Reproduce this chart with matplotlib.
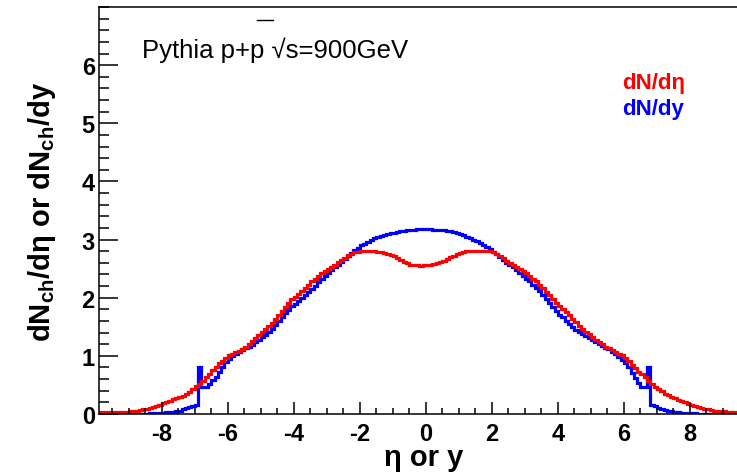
import numpy as np
import matplotlib.pyplot as plt
from matplotlib.ticker import MultipleLocator, FixedLocator
from matplotlib.lines import Line2D

plt.rcParams['font.family'] = ['Liberation Sans', 'DejaVu Sans']
plt.rcParams['axes.unicode_minus'] = False

# histogram bins: 0.1 wide from -10 to 10
bin_edges = np.round(np.linspace(-10.0, 10.0, 201), 2)

# dN/deta (red)
dn_deta = [
    0.03, 0.03, 0.03, 0.03, 0.03, 0.03, 0.03, 0.03, 0.03, 0.04,
    0.05, 0.06, 0.06, 0.07, 0.08, 0.09, 0.10, 0.12, 0.14, 0.16,
    0.19, 0.21, 0.23, 0.25, 0.27, 0.29, 0.31, 0.34, 0.38, 0.43,
    0.48, 0.52, 0.57, 0.63, 0.69, 0.75, 0.81, 0.87, 0.92, 0.97,
    1.01, 1.04, 1.07, 1.09, 1.12, 1.16, 1.20, 1.25, 1.30, 1.36,
    1.41, 1.46, 1.51, 1.57, 1.64, 1.70, 1.77, 1.84, 1.91, 1.97,
    2.02, 2.06, 2.12, 2.17, 2.22, 2.28, 2.33, 2.38, 2.42, 2.46,
    2.49, 2.52, 2.56, 2.61, 2.65, 2.69, 2.73, 2.76, 2.78, 2.79,
    2.80, 2.81, 2.81, 2.80, 2.80, 2.79, 2.78, 2.77, 2.75, 2.73,
    2.71, 2.68, 2.65, 2.62, 2.59, 2.57, 2.56, 2.56, 2.55, 2.56,
    2.56, 2.56, 2.58, 2.60, 2.62, 2.64, 2.67, 2.70, 2.72, 2.75,
    2.77, 2.78, 2.80, 2.80, 2.81, 2.81, 2.81, 2.80, 2.80, 2.80,
    2.78, 2.75, 2.72, 2.68, 2.64, 2.60, 2.56, 2.52, 2.49, 2.46,
    2.42, 2.38, 2.33, 2.28, 2.22, 2.16, 2.10, 2.04, 1.97, 1.91,
    1.86, 1.81, 1.76, 1.70, 1.64, 1.58, 1.52, 1.46, 1.41, 1.37,
    1.32, 1.28, 1.24, 1.20, 1.16, 1.13, 1.10, 1.07, 1.04, 1.01,
    0.96, 0.91, 0.85, 0.79, 0.73, 0.68, 0.63, 0.57, 0.52, 0.47,
    0.43, 0.39, 0.35, 0.32, 0.29, 0.27, 0.24, 0.22, 0.20, 0.18,
    0.16, 0.14, 0.12, 0.10, 0.09, 0.08, 0.07, 0.06, 0.06, 0.05,
    0.05, 0.04, 0.04, 0.04, 0.04, 0.03, 0.03, 0.03, 0.03, 0.03,
]

# dN/dy (blue)
dn_dy = [
    0.00, 0.00, 0.00, 0.00, 0.00, 0.00, 0.00, 0.00, 0.00, 0.00,
    0.00, 0.00, 0.00, 0.00, 0.00, 0.00, 0.01, 0.01, 0.01, 0.02,
    0.02, 0.03, 0.03, 0.04, 0.05, 0.06, 0.08, 0.10, 0.12, 0.14,
    0.16, 0.81, 0.47, 0.46, 0.52, 0.58, 0.64, 0.72, 0.81, 0.89,
    0.95, 0.99, 1.03, 1.07, 1.10, 1.13, 1.16, 1.19, 1.23, 1.28,
    1.32, 1.36, 1.41, 1.47, 1.53, 1.60, 1.67, 1.73, 1.79, 1.85,
    1.90, 1.95, 1.99, 2.04, 2.09, 2.15, 2.21, 2.27, 2.32, 2.37,
    2.42, 2.47, 2.52, 2.57, 2.62, 2.67, 2.72, 2.77, 2.82, 2.86,
    2.90, 2.93, 2.96, 2.99, 3.02, 3.04, 3.06, 3.08, 3.09, 3.11,
    3.12, 3.13, 3.14, 3.15, 3.16, 3.17, 3.17, 3.18, 3.18, 3.18,
    3.18, 3.18, 3.17, 3.17, 3.16, 3.16, 3.15, 3.14, 3.13, 3.12,
    3.10, 3.08, 3.05, 3.03, 3.00, 2.97, 2.94, 2.91, 2.87, 2.83,
    2.79, 2.75, 2.70, 2.65, 2.60, 2.56, 2.52, 2.48, 2.43, 2.38,
    2.33, 2.28, 2.22, 2.17, 2.11, 2.05, 1.98, 1.91, 1.84, 1.77,
    1.71, 1.66, 1.60, 1.55, 1.50, 1.45, 1.41, 1.38, 1.35, 1.31,
    1.27, 1.23, 1.20, 1.17, 1.14, 1.11, 1.07, 1.03, 0.98, 0.93,
    0.87, 0.80, 0.71, 0.62, 0.53, 0.46, 0.46, 0.81, 0.15, 0.13,
    0.11, 0.09, 0.07, 0.06, 0.05, 0.04, 0.03, 0.02, 0.01, 0.01,
    0.01, 0.01, 0.00, 0.00, 0.00, 0.00, 0.00, 0.00, 0.00, 0.00,
    0.00, 0.00, 0.00, 0.00, 0.00, 0.00, 0.00, 0.00, 0.00, 0.00,
]

x_major = [-8, -6, -4, -2, 0, 2, 4, 6, 8]
y_major = [0, 1, 2, 3, 4, 5, 6]

W, H = 737, 477
fig = plt.figure(figsize=(W / 100, H / 100), dpi=100)
# right edge of the frame lies outside the picture (cropped like the original)
ax = fig.add_axes([99 / W, 1 - 415 / H, (756 - 99) / W, (415 - 8) / H])

ax.stairs(dn_dy, bin_edges, baseline=None, color='#0000ff', lw=2.3)
ax.stairs(dn_deta, bin_edges, baseline=None, color='#ff0000', lw=2.3)

ax.set_xlim(-9.9, 10)
ax.set_ylim(0, 7)

ax.xaxis.set_major_locator(FixedLocator(x_major))
ax.xaxis.set_minor_locator(MultipleLocator(0.5))
ax.yaxis.set_major_locator(FixedLocator(y_major))
ax.yaxis.set_minor_locator(MultipleLocator(0.2))

ax.tick_params(which='both', direction='in', top=False, right=False, width=1.1, color='black')
ax.tick_params(axis='x', which='major', length=9, pad=6, labelsize=17)
ax.tick_params(axis='x', which='minor', length=4.5)
ax.tick_params(axis='y', which='major', length=13.5, pad=3, labelsize=17)
ax.tick_params(axis='y', which='minor', length=7.5)
for lab in ax.get_xticklabels() + ax.get_yticklabels():
    lab.set_fontweight('bold')

for side in ['left', 'bottom', 'top']:
    ax.spines[side].set_linewidth(1.1)
ax.spines['right'].set_visible(False)

fig.text(42 / W, 1 - 212 / H, r'dN$_{\mathregular{ch}}$/dη or dN$_{\mathregular{ch}}$/dy',
         rotation=90, ha='center', va='center', fontsize=21, fontweight='bold')
fig.text(424 / W, 1 - 466 / H, 'η or y', ha='center', va='baseline', fontsize=21, fontweight='bold')

fig.text(142 / W, 1 - 58 / H, 'Pythia p+p √s=900GeV', ha='left', va='baseline', fontsize=18.5)
fig.add_artist(Line2D([257 / W, 273 / W], [1 - 21 / H, 1 - 21 / H], color='black', lw=1.0))

fig.text(622 / W, 1 - 84 / H, 'dN/dη', color='#ff0000', ha='left', va='center', fontsize=16, fontweight='bold')
fig.text(622 / W, 1 - 110 / H, 'dN/dy', color='#0000ff', ha='left', va='center', fontsize=16, fontweight='bold')

fig.savefig('out.png', dpi=100)
